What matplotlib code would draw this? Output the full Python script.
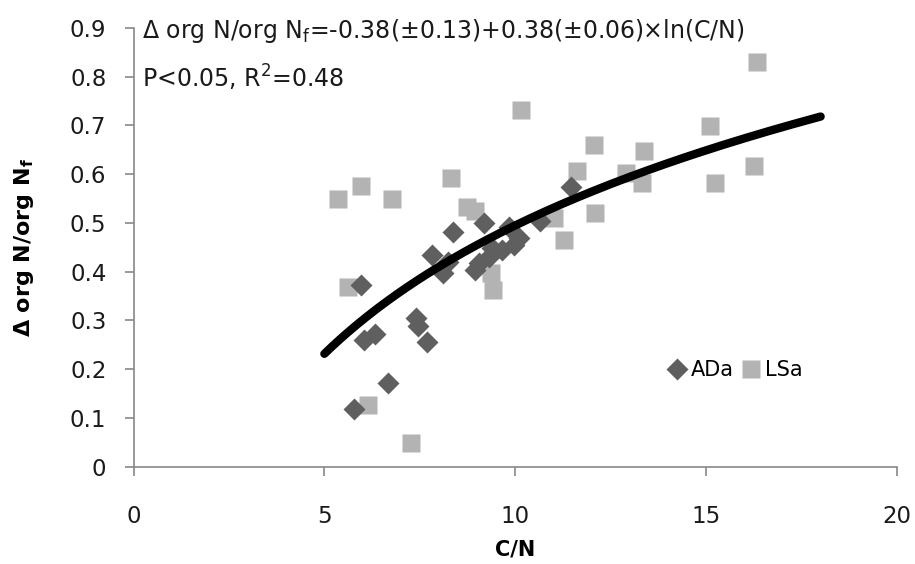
import matplotlib
matplotlib.use("Agg")
import matplotlib.pyplot as plt
import numpy as np

plt.rcParams["font.family"] = ["DejaVu Sans"]

# C/N and relative change of organic N, two site groups
ada_cn = [5.77, 5.95, 6.05, 6.33, 6.67, 7.39, 7.44, 7.69, 7.81, 8.12, 8.25,
          8.36, 8.95, 9.04, 9.17, 9.30, 9.40, 9.65, 9.83, 9.96, 10.09, 10.64, 11.45]
ada_dn = [0.118, 0.373, 0.260, 0.273, 0.172, 0.305, 0.288, 0.255, 0.434, 0.397, 0.419,
          0.482, 0.404, 0.417, 0.500, 0.431, 0.449, 0.444, 0.492, 0.454, 0.469, 0.505, 0.574]

lsa_cn = [5.35, 5.62, 5.95, 6.14, 6.78, 7.26, 8.32, 8.73, 8.95, 9.37, 9.43, 10.16,
          11.01, 11.27, 11.62, 12.06, 12.10, 12.90, 13.32, 13.38, 15.10, 15.22, 16.25, 16.32]
lsa_dn = [0.550, 0.369, 0.575, 0.126, 0.550, 0.048, 0.592, 0.533, 0.525, 0.398, 0.363, 0.731,
          0.510, 0.466, 0.606, 0.660, 0.521, 0.603, 0.583, 0.648, 0.699, 0.582, 0.616, 0.830]

# log fit: a + b*ln(C/N)
fit_a, fit_b = -0.38, 0.38
fit_range = (5, 18)

fig = plt.figure(figsize=(9.15, 5.64), dpi=100)
ax = fig.add_axes([133.5 / 915, 97.3 / 564, 763.5 / 915, 438.7 / 564])

ax.plot(lsa_cn, lsa_dn, ls="none", marker="s", ms=12.5, color="#b3b3b3",
        mec="none", label="LSa", zorder=2)
ax.plot(ada_cn, ada_dn, ls="none", marker="D", ms=11, color="#5f5f5f",
        mec="none", label="ADa", zorder=3)

xf = np.linspace(*fit_range, 200)
ax.plot(xf, fit_a + fit_b * np.log(xf), color="black", lw=6,
        solid_capstyle="round", zorder=4)

ax.set_xlim(0, 20)
ax.set_ylim(0, 0.9)
ax.set_xticks(np.arange(0, 21, 5))
ax.set_yticks(np.round(np.arange(0, 0.91, 0.1), 1))
ax.set_yticklabels(["0"] + [f"{v:.1f}" for v in np.arange(0.1, 0.91, 0.1)])

for side in ("top", "right"):
    ax.spines[side].set_visible(False)
for side in ("left", "bottom"):
    ax.spines[side].set_color("#888888")
    ax.spines[side].set_linewidth(1.2)
ax.tick_params(axis="both", colors="#888888", labelcolor="#1a1a1a",
               labelsize=16.5, length=6.5, width=1.2, direction="out")
ax.tick_params(axis="x", pad=21)
ax.tick_params(axis="y", pad=13)

ax.set_xlabel("C/N", fontsize=15, fontweight="bold", labelpad=8)
ax.set_ylabel(r"$\mathbf{\Delta}$ org N/org N$_\mathbf{f}$", fontsize=16,
              fontweight="bold")
ax.yaxis.set_label_coords(-0.128, 0.5)

ax.text(0.22, 0.880, "Δ org N/org N$_\\mathregular{f}$=-0.38(±0.13)+0.38(±0.06)×ln(C/N)",
        fontsize=17, color="#1a1a1a", va="baseline")
ax.text(0.22, 0.777, "P<0.05, R$^\\mathregular{2}$=0.48", fontsize=17,
        color="#1a1a1a", va="baseline")

handles, labels = ax.get_legend_handles_labels()
ax.legend(handles[::-1], labels[::-1], ncol=2, frameon=False, fontsize=15,
          loc="center left", bbox_to_anchor=(0.673, 0.22),
          handletextpad=0.2, columnspacing=0.3, handlelength=1.0)

fig.savefig("out.png", dpi=100)
